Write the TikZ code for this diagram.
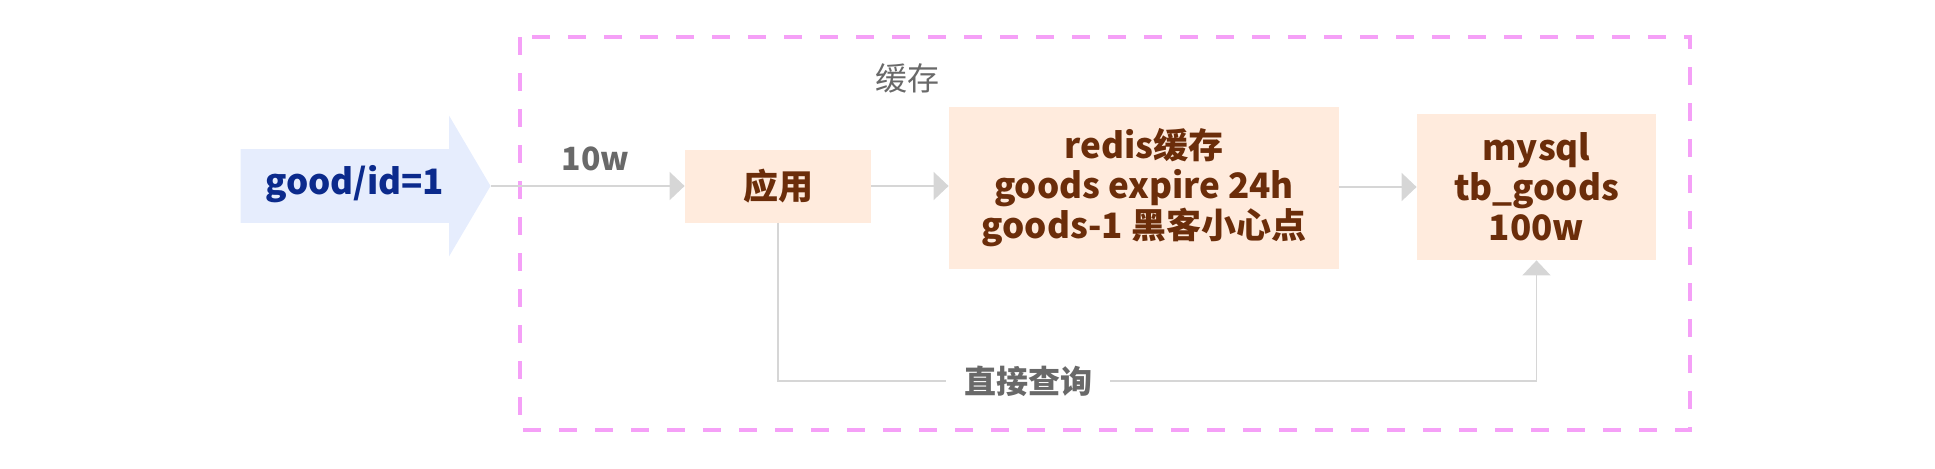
\documentclass[tikz,border=0pt]{standalone}
\usepackage{fontspec}
\setmainfont{Noto Sans CJK SC}
\usepackage{xcolor}
\usetikzlibrary{positioning,arrows.meta,shapes.arrows,calc}
\definecolor{boxbg}{HTML}{FFEBDD}
\definecolor{boxtext}{HTML}{6B2D0A}
\definecolor{reqbg}{HTML}{E6EDFD}
\definecolor{reqtext}{HTML}{0B2A8C}
\definecolor{linegrey}{HTML}{D6D6D6}
\definecolor{lblgrey}{HTML}{696969}
\definecolor{zonepink}{HTML}{F5A0F7}
\tikzset{
  box/.style={
    fill=boxbg, draw=none, align=center, inner sep=0pt, text=boxtext,
    font=\fontsize{17.5}{20}\selectfont\bfseries,
  },
  req/.style={
    single arrow, fill=reqbg, draw=none, text=reqtext,
    font=\fontsize{17.5}{20}\selectfont\bfseries,
    text height=12pt, text depth=4pt, inner ysep=10.25pt, inner xsep=0pt,
    minimum height=125pt, minimum width=70pt,
    single arrow head extend=16.75pt, single arrow tip angle=119,
  },
  flow/.style={-{Triangle[length=7.5pt,width=14pt]}, draw=linegrey,
               line width=0.9pt},
  lbl/.style={font=\fontsize{16}{18}\selectfont\bfseries, text=lblgrey,
              inner sep=1pt},
  zone/.style={draw=zonepink, line width=1.6pt, dash pattern=on 9pt off 9pt},
  ztitle/.style={font=\fontsize{16}{18}\selectfont, text=lblgrey},
}
\begin{document}
\begin{tikzpicture}[x=0.5pt, y=-0.5pt]
\useasboundingbox (0,0) rectangle (1935,468);

% ------------------------------------------------------------- cache zone
\coordinate (zoneNW) at (520,37);
\coordinate (zoneSE) at (1690,430);
\draw[zone] (zoneNW) rectangle (zoneSE);
\node[ztitle] (zonetitle) at (907,78) {缓存};

% ------------------------------------------------------------- nodes
\node[req, anchor=tip] (request) at (491,186) {good/id=1};
\node[box, minimum width=93pt, minimum height=36.5pt] (app) at (778,186) {应用};
\node[box, minimum width=195pt, minimum height=81pt] (cache) at (1144,188)
  {redis缓存\\goods expire 24h\\goods-1 黑客小心点};
\node[box, minimum width=119.5pt, minimum height=73pt] (db) at (1536.5,187)
  {mysql\\tb\_goods\\100w};

% ------------------------------------------------------------- flows
\draw[flow] (request.tip) -- node[lbl, above=6pt, xshift=4pt] {10w} (app.west);
\draw[flow] (app.east) -- (app.east -| cache.west);
\draw[flow] (cache.east |- db.west) -- (db.west);

\coordinate (turn) at (db.south |- 0,381);
\draw[flow] (app.south) |- node[lbl, pos=0.665, fill=white, inner xsep=9pt] {直接查询}
  (turn) -- (db.south);

\end{tikzpicture}
\end{document}
